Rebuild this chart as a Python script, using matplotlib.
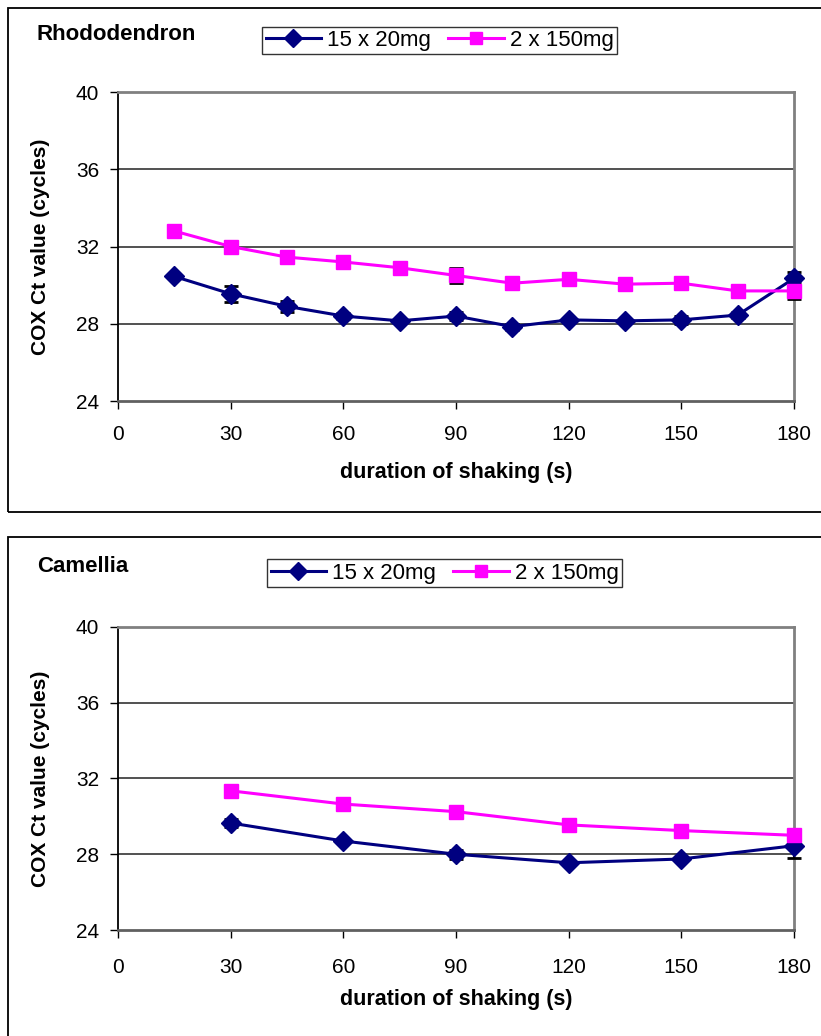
import matplotlib
matplotlib.use("Agg")
import matplotlib.pyplot as plt
from matplotlib.patches import Rectangle

plt.rcParams['font.family'] = ['Liberation Sans', 'DejaVu Sans']

# Rhododendron data
rho_x = [15, 30, 45, 60, 75, 90, 105, 120, 135, 150, 165, 180]
rho_small = [30.45, 29.55, 28.9, 28.4, 28.15, 28.4, 27.85, 28.2, 28.15, 28.2, 28.45, 30.35]
rho_small_err = [0.1, 0.4, 0.3, 0.15, 0.1, 0.2, 0.15, 0.1, 0.1, 0.2, 0.15, 0.35]
rho_large = [32.8, 32.0, 31.45, 31.2, 30.9, 30.5, 30.1, 30.3, 30.05, 30.1, 29.7, 29.7]
rho_large_err = [0.1, 0.15, 0.15, 0.1, 0.1, 0.4, 0.15, 0.15, 0.25, 0.15, 0.25, 0.4]

# Camellia data
cam_x = [30, 60, 90, 120, 150, 180]
cam_small = [29.65, 28.7, 28.0, 27.55, 27.75, 28.45]
cam_small_err = [0.2, 0.1, 0.25, 0.1, 0.1, 0.65]
cam_large = [31.35, 30.65, 30.25, 29.55, 29.25, 29.0]
cam_large_err = [0.1, 0.1, 0.15, 0.1, 0.1, 0.15]

series_labels = ['15 x 20mg', '2 x 150mg']
x_ticks = [0, 30, 60, 90, 120, 150, 180]
y_ticks = [24, 28, 32, 36, 40]

NAVY = '#000080'
MAG = '#FF00FF'

fig = plt.figure(figsize=(8.21, 10.36), dpi=100)
W, H = 821, 1036

def fx(px):
    return px / W

def fy(py):
    return 1 - py / H

# Panel borders
fig.patches.append(Rectangle((fx(8), fy(512)), 1.2, fy(8) - fy(512), transform=fig.transFigure,
                             fill=False, edgecolor='black', linewidth=1.3))
fig.patches.append(Rectangle((fx(8), fy(1100)), 1.2, fy(537) - fy(1100), transform=fig.transFigure,
                             fill=False, edgecolor='black', linewidth=1.3))


def make_panel(top_px, bot_px, xs, small, small_err, large, large_err, title, title_y, leg_box, xlabel_y, xpad):
    ax = fig.add_axes([fx(118), fy(bot_px), fx(794) - fx(118), fy(top_px) - fy(bot_px)])
    ax.set_xlim(0, 180)
    ax.set_ylim(24, 40)
    ax.set_xticks(x_ticks)
    ax.set_yticks(y_ticks)
    for yv in y_ticks[1:-1]:
        ax.axhline(yv, color='#222222', linewidth=1.1, zorder=1)
    for s in ['top', 'right']:
        ax.spines[s].set_color('#808080')
        ax.spines[s].set_linewidth(2.0)
    ax.spines['left'].set_color('black')
    ax.spines['left'].set_linewidth(1.3)
    ax.spines['bottom'].set_color('#606060')
    ax.spines['bottom'].set_linewidth(2.0)
    ax.tick_params(axis='both', direction='out', length=5.5, width=1, labelsize=15, color='black')
    ax.tick_params(axis='y', pad=8)
    ax.tick_params(axis='x', pad=xpad)
    ax.errorbar(xs, small, yerr=small_err, color=NAVY, ecolor='black', elinewidth=1.5,
                capsize=5, capthick=2, marker='D', markersize=10.5, linewidth=2.2,
                label=series_labels[0], zorder=3, clip_on=False)
    ax.errorbar(xs, large, yerr=large_err, color=MAG, ecolor='black', elinewidth=1.5,
                capsize=5, capthick=2, marker='s', markersize=10, linewidth=2.2,
                label=series_labels[1], zorder=3, clip_on=False)
    ax.set_ylabel('COX Ct value (cycles)', fontsize=15, fontweight='bold')
    ax.yaxis.set_label_coords((50 - 118) / 676, 0.5)
    ax.set_xlabel('duration of shaking (s)', fontsize=15.5, fontweight='bold')
    ax.xaxis.set_label_coords(0.5, (bot_px - xlabel_y) / (bot_px - top_px))
    ax.xaxis.label.set_va('center')
    fig.text(fx(37), fy(title_y), title, fontsize=16, fontweight='bold', va='center', ha='left')
    handles, labels = ax.get_legend_handles_labels()
    handles = [h[0] for h in handles]
    lx0, ly0, lx1, ly1 = leg_box
    leg = fig.legend(handles, labels, loc='center', ncol=2,
                     bbox_to_anchor=(fx((lx0 + lx1) / 2), fy((ly0 + ly1) / 2)),
                     fontsize=16, frameon=True, fancybox=False, edgecolor='black',
                     handlelength=2.5, handletextpad=0.25, columnspacing=0.8,
                     borderpad=0.15, borderaxespad=0, markerscale=0.9)
    leg.get_frame().set_linewidth(1.0)
    return ax

make_panel(92, 401, rho_x, rho_small, rho_small_err, rho_large, rho_large_err,
           'Rhododendron', 35, (258, 26, 621, 55), 472, 12)
make_panel(627, 930, cam_x, cam_small, cam_small_err, cam_large, cam_large_err,
           'Camellia', 567, (263, 558, 626, 588), 1000, 15)

fig.savefig('out.png', dpi=100)
